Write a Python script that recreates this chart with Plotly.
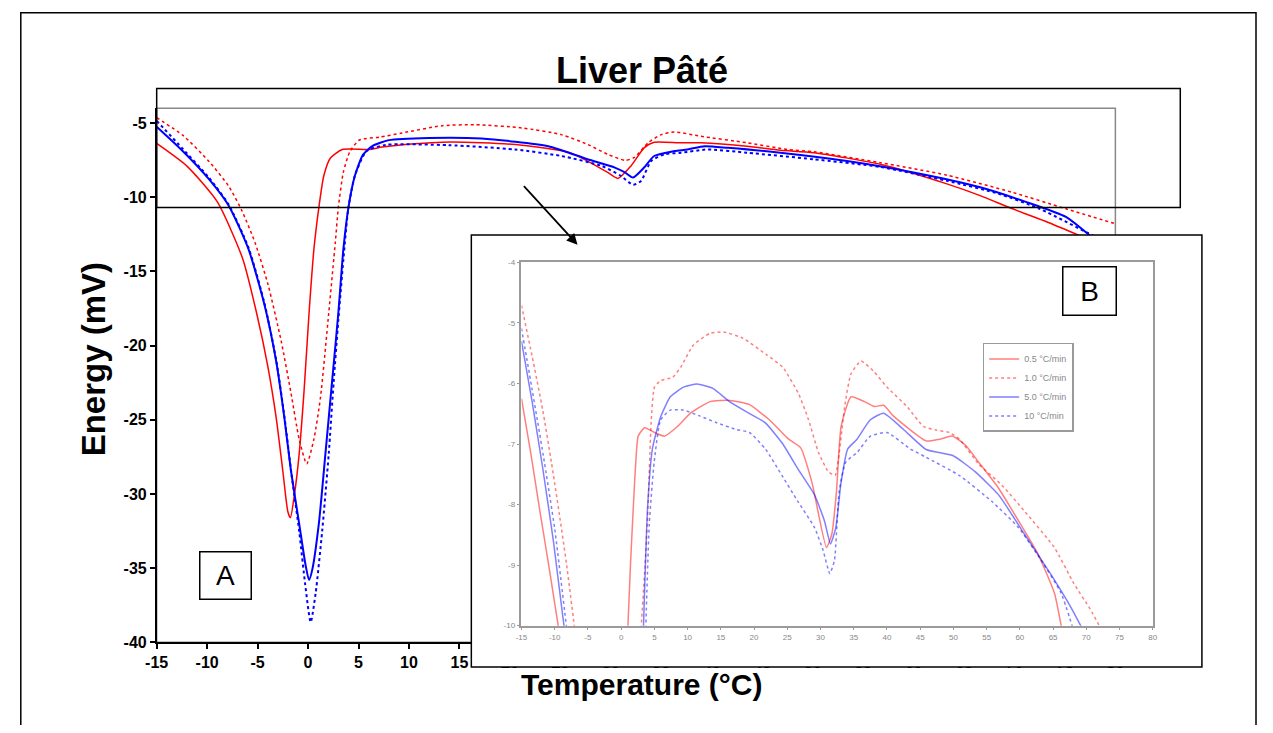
import plotly.graph_objects as go

# ---------------- data: main chart (A) ----------------
m05_x = [-15, -12, -9, -6.5, -5.1, -4, -3.15, -2.5, -2.0, -1.75, -1.36, -0.88, -0.39, 0.1, 0.58, 1.07, 1.56, 2.2, 3.4, 6.0,
         7.35, 10.6, 13.3, 17.2, 21.2, 25.8, 27.7, 29.7, 30.7, 32.0, 33.3, 34.3, 36.9, 38.9, 43.5, 46.8, 50.1, 56.7, 63.3, 66.6,
         69.8, 73.0, 76.5, 78.5]
m05_y = [-6.37, -7.9, -10.3, -14.1, -17.8, -21.35, -24.9, -28.45, -31.2, -31.6, -30.1, -27.3, -23.0, -17.8, -13.5, -10.7, -8.55, -7.37, -6.78, -6.78,
         -6.62, -6.4, -6.29, -6.33, -6.49, -6.96, -7.56, -8.33, -8.73, -7.89, -6.67, -6.29, -6.33, -6.33, -6.56, -6.84, -7.0, -7.78, -9.1, -9.89,
         -10.78, -11.6, -12.6, -13.2]

m10_x = [-15, -12.4, -9.8, -7.86, -6.56, -5.26, -3.96, -2.66, -1.69, -0.88, -0.13, 0.58, 1.23, 2.05, 2.7, 3.0, 3.5, 4.16, 5.1, 7.1,
         9.3, 13.3, 16.6, 21.2, 25.1, 27.7, 29.7, 31.4, 32.3, 33.7, 35.0, 36.3, 38.9, 43.5, 47.5, 50.1, 56.7, 63.3, 69.8, 75.1, 82.0]
m10_y = [-4.64, -5.83, -7.6, -9.26, -10.9, -13.05, -15.9, -19.7, -23.2, -26.3, -27.97, -26.3, -23.5, -17.8, -13.05, -10.7, -8.3, -6.9, -6.14, -5.95,
         -5.67, -5.18, -5.11, -5.33, -5.78, -6.44, -7.11, -7.51, -7.33, -6.33, -5.78, -5.6, -5.89, -6.33, -6.78, -6.93, -7.67, -8.51, -9.67, -10.78, -12.2]

m50_x = [-15, -12.4, -9.8, -7.86, -5.9, -4.3, -3.15, -2.34, -1.69, -0.88, -0.23, 0.1, 0.42, 1.07, 1.72, 2.37, 3.0, 3.5, 4.0, 4.64,
         5.45, 6.4, 8.0, 11.95, 17.2, 23.8, 27.7, 30.4, 31.4, 32.2, 33.3, 34.3, 36.3, 37.6, 39.3, 41.6, 46.8, 53.4, 60.0, 66.6,
         71.2, 75.1, 77.7, 79]
m50_y = [-5.25, -6.9, -8.8, -10.57, -13.5, -17.3, -21.1, -24.9, -28.45, -32.0, -34.85, -35.8, -35.1, -32.0, -27.3, -22.5, -17.8, -13.5, -10.7, -8.55,
         -7.13, -6.54, -6.15, -6.0, -6.04, -6.56, -7.44, -8.0, -8.33, -8.67, -8.0, -7.22, -6.89, -6.78, -6.56, -6.67, -7.0, -7.56, -8.33, -9.33,
         -10.33, -11.33, -12.7, -13.3]

m100_x = [-15, -12.4, -9.8, -7.86, -5.9, -4.3, -3.15, -2.34, -1.69, -0.88, -0.3, 0.26, 0.75, 1.4, 2.05, 2.53, 3.0, 3.5, 4.0, 4.64,
          5.78, 7.7, 13.9, 20.5, 25.1, 29.1, 31.0, 32.2, 33.0, 34.0, 35.3, 37.0, 39.6, 43.5, 50.1, 56.7, 63.3, 68.5, 72.5, 78.7, 80]
m100_y = [-4.85, -6.75, -8.7, -10.5, -13.4, -17.2, -21.0, -24.8, -28.4, -32.5, -36.0, -38.64, -36.7, -32.5, -27.3, -22.5, -18.3, -14.2, -10.7, -8.55,
          -6.9, -6.47, -6.49, -6.78, -7.22, -7.89, -8.56, -9.16, -8.9, -7.56, -7.11, -7.0, -6.78, -7.0, -7.44, -7.96, -8.89, -9.78, -10.78, -12.9, -13.3]

# ---------------- data: inset chart (B) ----------------
i05_x = [-15, -13.6, -12.3, -10.9, -9.4, None, 1.0, 1.4, 1.82, 2.2, 2.56, 3.54, 5.02, 6.5, 8.47, 10.44, 13.4, 16.4, 19.3, 22.3,
         25.2, 27.0, 28.7, 30.9, 31.7, 32.4, 33.1, 34.6, 36.6, 38.1, 39.5, 41.0, 45.9, 47.9, 49.9, 51.9, 53.8, 56.8, 59.8, 62.7, 65.2, 66.3]
i05_y = [-6.25, -7.15, -8.06, -9.0, -10.05, None, -10.05, -9.0, -8.06, -7.3, -6.87, -6.73, -6.81, -6.87, -6.71, -6.49, -6.3, -6.28, -6.35, -6.6,
         -6.92, -7.06, -7.63, -8.71, -8.49, -7.79, -6.71, -6.22, -6.3, -6.38, -6.36, -6.54, -6.95, -6.92, -6.87, -7.03, -7.3, -7.73, -8.27, -8.81, -9.46, -10.05]

i10_x = [-15, -13.4, -11.8, -10.5, -9.3, -8.2, -7.0, None, 3.0, 3.6, 4.04, 4.53, 5.02, 6.0, 7.74, 8.97, 10.9, 13.4, 15.4, 18.3,
         21.8, 24.3, 26.7, 28.2, 29.7, 31.2, 32.2, 32.7, 33.7, 34.6, 36.1, 38.0, 40.0, 43.0, 45.5, 47.4, 49.4, 50.9, 53.8, 57.3,
         60.7, 65.2, 68.1, 70.6, 72.2]
i10_y = [-4.71, -5.55, -6.44, -7.3, -8.16, -9.0, -10.05, None, -10.05, -9.0, -8.06, -6.6, -6.06, -5.95, -5.9, -5.73, -5.36, -5.17, -5.15, -5.25,
         -5.52, -5.73, -6.17, -6.6, -7.14, -7.46, -7.52, -7.25, -6.33, -5.84, -5.63, -5.8, -6.06, -6.38, -6.71, -6.77, -6.81, -6.92, -7.33, -7.68,
         -8.11, -8.71, -9.30, -9.73, -10.05]

i50_x = [-15, -13.4, -11.8, -10.2, -8.55, None, 3.35, 3.97, 4.7, 5.95, 7.4, 9.4, 11.4, 13.8, 16.3, 19.2, 21.7, 24.2, 26.6, 29.1,
         30.6, 31.5, 32.3, 33.1, 34.1, 35.5, 37.5, 39.5, 42.5, 45.9, 49.9, 53.3, 56.8, 60.7, 64.6, 67.6, 69.4]
i50_y = [-5.3, -6.3, -7.4, -8.6, -10.05, None, -10.05, -8.06, -7.08, -6.55, -6.22, -6.06, -6.01, -6.08, -6.3, -6.49, -6.65, -6.98, -7.41, -7.84,
         -8.27, -8.65, -8.38, -7.63, -7.08, -6.92, -6.6, -6.49, -6.76, -7.09, -7.19, -7.46, -7.84, -8.49, -9.14, -9.68, -10.05]

i100_x = [-15, -13.4, -11.7, -10.0, -8.2, None, 3.7, 4.23, 4.97, 5.95, 7.4, 9.4, 11.9, 14.4, 17.3, 19.3, 21.7, 24.2, 26.6, 29.1,
          30.4, 31.4, 32.1, 32.8, 33.8, 35.5, 37.5, 40.0, 43.5, 45.9, 50.9, 55.8, 59.8, 63.2, 66.2, 68.0]
i100_y = [-5.09, -6.1, -7.2, -8.4, -10.05, None, -10.05, -8.33, -7.3, -6.6, -6.44, -6.44, -6.54, -6.65, -6.76, -6.81, -7.08, -7.52, -7.95, -8.38,
          -8.76, -9.14, -8.92, -7.79, -7.3, -7.14, -6.87, -6.81, -7.08, -7.22, -7.52, -7.95, -8.38, -8.92, -9.46, -10.05]

series_names = ["0.5 °C/min", "1.0 °C/min", "5.0 °C/min", "10 °C/min"]
title_text = "Liver Pâté"
x_title = "Temperature (°C)"
y_title = "Energy (mV)"

main_xticks = list(range(-15, 81, 5))
main_xticktext = [str(v) for v in main_xticks]
main_yticks = list(range(-40, -4, 5))
main_yticktext = [str(v) for v in main_yticks]
inset_xticks = list(range(-15, 81, 5))
inset_xticktext = [str(v) for v in inset_xticks]
inset_yticks = list(range(-10, -3, 1))
inset_yticktext = [str(v) for v in inset_yticks]

# ---------------- layout helpers ----------------
# page keeps the default 8px body margin: figure sized to fit inside it,
# page pixel coordinates converted to paper coordinates
OFF = 8
W, H = 1273 - 2 * OFF, 733 - 2 * OFF
def PX(x):
    return (x - OFF) / W
def PY(y):
    return 1 - (y - OFF) / H

FONT = "Liberation Sans, Arial, sans-serif"
RED, BLUE = "#ff0000", "#0000ff"
RED_L, BLUE_L = "rgba(255,0,0,0.5)", "rgba(0,0,255,0.5)"
GREY = "#9a9a9a"

fig = go.Figure()

main = [(m05_x, m05_y, RED, "solid", 1.5), (m10_x, m10_y, RED, "dot", 1.5),
        (m50_x, m50_y, BLUE, "solid", 2), (m100_x, m100_y, BLUE, "dot", 2)]
for (xs, ys, c, d, w), nm in zip(main, series_names):
    fig.add_trace(go.Scatter(x=xs, y=ys, mode="lines", name=nm, showlegend=False,
                             line=dict(color=c, dash=d, width=w, shape="spline", smoothing=0.6),
                             xaxis="x", yaxis="y"))

inset = [(i05_x, i05_y, RED_L, "solid"), (i10_x, i10_y, RED_L, "dot"),
         (i50_x, i50_y, BLUE_L, "solid"), (i100_x, i100_y, BLUE_L, "dot")]
for (xs, ys, c, d), nm in zip(inset, series_names):
    fig.add_trace(go.Scatter(x=xs, y=ys, mode="lines", name=nm, showlegend=True,
                             line=dict(color=c, dash=d, width=1.5, shape="spline", smoothing=0.5),
                             xaxis="x3", yaxis="y3"))

MX0, MX1, MY0, MY1 = 147, 1122, 106, 650      # main plot area
IX0, IX1, IY0, IY1 = 518, 1160, 263, 633      # inset plot area
BX0, BX1, BY0, BY1 = 465, 1212, 233, 677      # inset panel (white box) subplot, slightly larger than the box

axis_main = dict(showgrid=False, zeroline=False, showline=True, linecolor="black", linewidth=1.5,
                 ticks="outside", ticklen=5, tickcolor="black", tickwidth=1.5,
                 tickfont=dict(size=16, weight="bold", family=FONT))
axis_inset = dict(showgrid=False, zeroline=False, showline=True, mirror=True, linecolor=GREY, linewidth=1.5,
                  ticks="outside", ticklen=3, tickcolor=GREY,
                  tickfont=dict(size=8, color="#888888", family=FONT))

fig.update_layout(
    width=W, height=H, margin=dict(l=0, r=0, t=0, b=0),
    paper_bgcolor="white", plot_bgcolor="rgba(0,0,0,0)",
    font=dict(family=FONT, color="black"),
    xaxis=dict(domain=[PX(MX0), PX(MX1)], range=[-15, 80], tickvals=main_xticks, ticktext=main_xticktext,
               anchor="y", **axis_main),
    yaxis=dict(domain=[PY(MY1), PY(MY0)], range=[-40, -4], tickvals=main_yticks, ticktext=main_yticktext,
               anchor="x", **axis_main),
    xaxis2=dict(domain=[PX(BX0), PX(BX1)], range=[BX0, BX1], visible=False, anchor="y2",
                showgrid=False, zeroline=False, fixedrange=True),
    yaxis2=dict(domain=[PY(BY1), PY(BY0)], range=[BY1, BY0], visible=False, anchor="x2",
                showgrid=False, zeroline=False, fixedrange=True),
    xaxis3=dict(domain=[PX(IX0), PX(IX1)], range=[-15, 80], tickvals=inset_xticks, ticktext=inset_xticktext,
                anchor="y3", **axis_inset),
    yaxis3=dict(domain=[PY(IY1), PY(IY0)], range=[-10, -4], tickvals=inset_yticks, ticktext=inset_yticktext,
                anchor="x3", **axis_inset),
    legend=dict(x=PX(987), y=PY(345), xanchor="left", yanchor="top",
                bgcolor="white", bordercolor=GREY, borderwidth=1.5,
                font=dict(size=9, color="#888888", family=FONT), itemwidth=30,
                tracegroupgap=0),
    showlegend=True,
)

shapes = []
# grey border of main plot area (top / right)
shapes.append(dict(type="rect", xref="x domain", yref="y domain", x0=0, x1=1, y0=0, y1=1,
                   line=dict(color="#888888", width=1.5), layer="below"))
# outer frame
shapes.append(dict(type="rect", xref="paper", yref="paper", x0=PX(8.8), x1=PX(1265), y0=PY(745), y1=PY(8.8),
                   line=dict(color="black", width=1.5)))
# highlight rectangle of the zoomed region
shapes.append(dict(type="rect", xref="paper", yref="paper", x0=PX(147), x1=PX(1188), y0=PY(207), y1=PY(86),
                   line=dict(color="black", width=1.5), layer="above"))
# white inset panel, in its own subplot (drawn over main chart, under the inset)
shapes.append(dict(type="rect", xref="x2", yref="y2", x0=467, x1=1210, y0=675, y1=235,
                   fillcolor="white", line=dict(color="black", width=1.5), layer="below"))
fig.update_layout(shapes=shapes)

ann = []
ann.append(dict(text=title_text, x=PX(641), y=PY(68), xref="paper", yref="paper", showarrow=False,
                xanchor="center", yanchor="middle", font=dict(size=36, weight="bold", family=FONT)))
ann.append(dict(text=y_title, x=PX(83), y=PY(362), xref="paper", yref="paper", showarrow=False, textangle=-90,
                xanchor="center", yanchor="middle", font=dict(size=33, weight="bold", family=FONT)))
ann.append(dict(text=x_title, x=PX(640), y=PY(693), xref="paper", yref="paper", showarrow=False,
                xanchor="center", yanchor="middle", font=dict(size=30, weight="bold", family=FONT)))
ann.append(dict(text="A", x=PX(217), y=PY(582), xref="paper", yref="paper", showarrow=False,
                xanchor="center", yanchor="middle", width=50, height=46, bgcolor="white",
                bordercolor="black", borderwidth=1.5, borderpad=0, font=dict(size=28, family=FONT)))
ann.append(dict(text="B", x=PX(1096), y=PY(292), xref="paper", yref="paper", showarrow=False,
                xanchor="center", yanchor="middle", width=52, height=47, bgcolor="white",
                bordercolor="black", borderwidth=1.5, borderpad=0, font=dict(size=28, family=FONT)))
ann.append(dict(text="", x=PX(575), y=PY(245), xref="paper", yref="paper", showarrow=True,
                ax=-55, ay=-60, axref="pixel", ayref="pixel",
                arrowhead=2, arrowsize=1.2, arrowwidth=1.8, arrowcolor="black"))
fig.update_layout(annotations=ann)

fig.write_html("out.html", config={"displayModeBar": False})
